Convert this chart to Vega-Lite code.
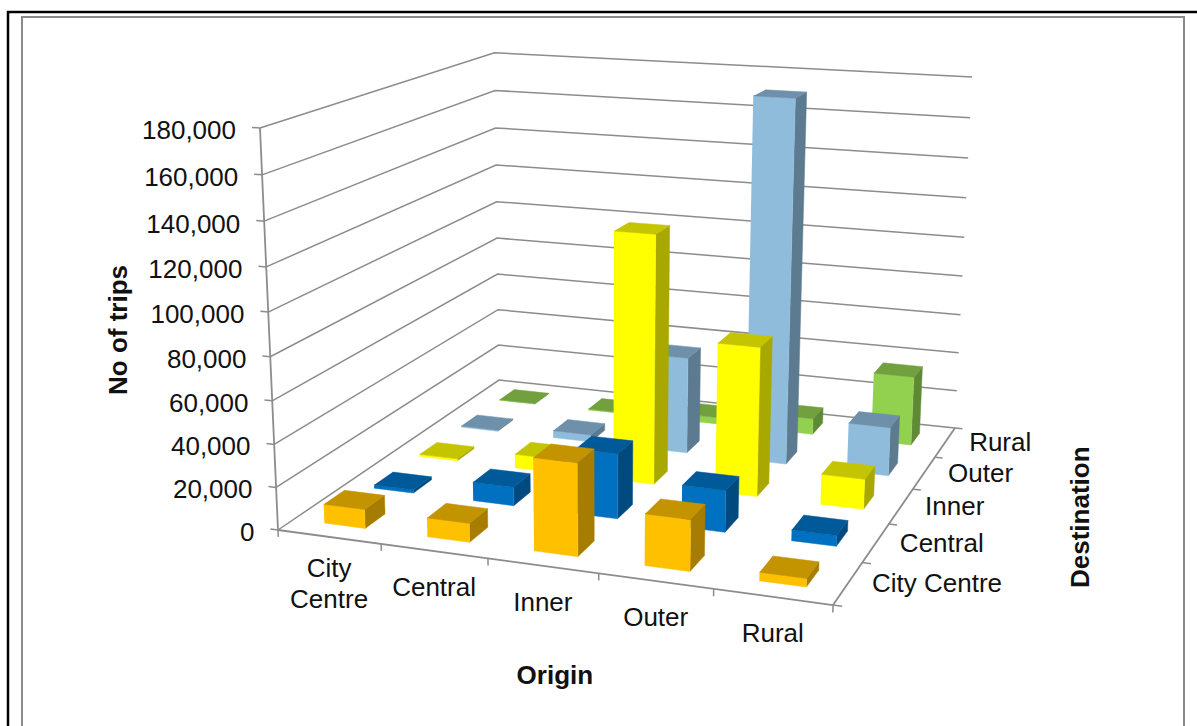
{
"$schema":"https://vega.github.io/schema/vega-lite/v6.json",
"width":1197,"height":726,"padding":0,"autosize":"none","background":"white",
"config":{"view":{"stroke":null},"text":{"font":"Liberation Sans","fontSize":26,"color":"#111111"}},
"datasets":{
"trips":[
{"origin":"City Centre","destination":"Rural","trips":300},{"origin":"Central","destination":"Rural","trips":500},{"origin":"Inner","destination":"Rural","trips":3400},{"origin":"Outer","destination":"Rural","trips":8200},{"origin":"Rural","destination":"Rural","trips":35300},
{"origin":"City Centre","destination":"Outer","trips":600},{"origin":"Central","destination":"Outer","trips":3600},{"origin":"Inner","destination":"Outer","trips":48500},{"origin":"Outer","destination":"Outer","trips":178500},{"origin":"Rural","destination":"Outer","trips":24100},
{"origin":"City Centre","destination":"Inner","trips":1000},{"origin":"Central","destination":"Inner","trips":6800},{"origin":"Inner","destination":"Inner","trips":120700},{"origin":"Outer","destination":"Inner","trips":72000},{"origin":"Rural","destination":"Inner","trips":14500},
{"origin":"City Centre","destination":"Central","trips":1500},{"origin":"Central","destination":"Central","trips":9000},{"origin":"Inner","destination":"Central","trips":30800},{"origin":"Outer","destination":"Central","trips":19600},{"origin":"Rural","destination":"Central","trips":5000},
{"origin":"City Centre","destination":"City Centre","trips":8900},{"origin":"Central","destination":"City Centre","trips":8800},{"origin":"Inner","destination":"City Centre","trips":42500},{"origin":"Outer","destination":"City Centre","trips":23300},{"origin":"Rural","destination":"City Centre","trips":3800}
],
"ticks":[{"value":0},{"value":20000},{"value":40000},{"value":60000},{"value":80000},{"value":100000},{"value":120000},{"value":140000},{"value":160000},{"value":180000}],
"edges":[{"edge":"front"},{"edge":"right"},{"edge":"height"}],
"boundaries":[{"axis":"origin","k":0},{"axis":"origin","k":1},{"axis":"origin","k":2},{"axis":"origin","k":3},{"axis":"origin","k":4},{"axis":"origin","k":5},{"axis":"destination","k":0},{"axis":"destination","k":1},{"axis":"destination","k":2},{"axis":"destination","k":3},{"axis":"destination","k":4},{"axis":"destination","k":5}],
"originLabels":[{"origin":"City Centre","k":0},{"origin":"Central","k":1},{"origin":"Inner","k":2},{"origin":"Outer","k":3},{"origin":"Rural","k":4}],
"destinationLabels":[{"destination":"City Centre","k":0},{"destination":"Central","k":1},{"destination":"Inner","k":2},{"destination":"Outer","k":3},{"destination":"Rural","k":4}]
},
"encoding":{
"x":{"field":"X","type":"quantitative","scale":{"domain":[0,1197],"nice":false,"zero":false},"axis":null},
"y":{"field":"Y","type":"quantitative","scale":{"domain":[726,0],"nice":false,"zero":false},"axis":null}
},
"layer":[
{"data":{"values":[{"frame":"outer"}]},
 "transform":[
 {"calculate":"[0,1,2]","as":"corner"},{"flatten":["corner"]},
 {"calculate":"[8,8,1197][datum.corner]","as":"X"},{"calculate":"[726,12,12][datum.corner]","as":"Y"}],
 "mark":{"type":"line","stroke":"#000000","strokeWidth":2.5},
 "encoding":{"order":{"field":"corner"}}},
{"data":{"values":[{"frame":"inner"}]},
 "transform":[
 {"calculate":"[0,1,2,3]","as":"corner"},{"flatten":["corner"]},
 {"calculate":"[22,22,1184,1184][datum.corner]","as":"X"},{"calculate":"[726,17,17,726][datum.corner]","as":"Y"}],
 "mark":{"type":"line","stroke":"#8a8a8a","strokeWidth":2},
 "encoding":{"order":{"field":"corner"}}},
{"data":{"name":"ticks"},
 "transform":[
 {"calculate":"[0,1,2]","as":"corner"},{"flatten":["corner"]},
 {"calculate":"datum.corner===2?1:0","as":"U"},{"calculate":"datum.corner>=1?1:0","as":"V"},{"calculate":"datum.value/180000","as":"H"},
 {"calculate":"1-0.0873*datum.U+0.2405*datum.V-0.053*datum.H","as":"W"},
 {"calculate":"(278+482.3*datum.U+341*datum.V-31.8*datum.H)/datum.W","as":"X"},
 {"calculate":"(530+22.2*datum.U-58.6*datum.V-408.8*datum.H)/datum.W","as":"Y"}],
 "mark":{"type":"line","stroke":"#8c8c8c","strokeWidth":1.5},
 "encoding":{"detail":{"field":"value"},"order":{"field":"corner"}}},
{"data":{"name":"ticks"},
 "transform":[
 {"calculate":"[0,1]","as":"corner"},{"flatten":["corner"]},
 {"calculate":"-0.015*datum.corner","as":"U"},{"calculate":"0","as":"V"},{"calculate":"datum.value/180000","as":"H"},
 {"calculate":"1-0.0873*datum.U+0.2405*datum.V-0.053*datum.H","as":"W"},
 {"calculate":"(278+482.3*datum.U+341*datum.V-31.8*datum.H)/datum.W","as":"X"},
 {"calculate":"(530+22.2*datum.U-58.6*datum.V-408.8*datum.H)/datum.W","as":"Y"}],
 "mark":{"type":"line","stroke":"#8c8c8c","strokeWidth":1.5},
 "encoding":{"detail":{"field":"value"},"order":{"field":"corner"}}},
{"data":{"name":"edges"},
 "transform":[
 {"calculate":"[0,1]","as":"corner"},{"flatten":["corner"]},
 {"calculate":"datum.edge==='front'?datum.corner:datum.edge==='right'?1:0","as":"U"},
 {"calculate":"datum.edge==='right'?datum.corner:0","as":"V"},
 {"calculate":"datum.edge==='height'?datum.corner:0","as":"H"},
 {"calculate":"1-0.0873*datum.U+0.2405*datum.V-0.053*datum.H","as":"W"},
 {"calculate":"(278+482.3*datum.U+341*datum.V-31.8*datum.H)/datum.W","as":"X"},
 {"calculate":"(530+22.2*datum.U-58.6*datum.V-408.8*datum.H)/datum.W","as":"Y"}],
 "mark":{"type":"line","stroke":"#8c8c8c","strokeWidth":1.8},
 "encoding":{"detail":{"field":"edge"},"order":{"field":"corner"}}},
{"data":{"name":"boundaries"},
 "transform":[
 {"calculate":"[0,1]","as":"corner"},{"flatten":["corner"]},
 {"calculate":"datum.axis==='origin'?datum.k/5:1+0.015*datum.corner","as":"U"},
 {"calculate":"datum.axis==='origin'?0:datum.k/5","as":"V"},
 {"calculate":"datum.axis==='origin'?-0.018*datum.corner:0","as":"H"},
 {"calculate":"1-0.0873*datum.U+0.2405*datum.V-0.053*datum.H","as":"W"},
 {"calculate":"(278+482.3*datum.U+341*datum.V-31.8*datum.H)/datum.W","as":"X"},
 {"calculate":"(530+22.2*datum.U-58.6*datum.V-408.8*datum.H)/datum.W","as":"Y"},
 {"calculate":"datum.axis+datum.k","as":"tickId"}],
 "mark":{"type":"line","stroke":"#8c8c8c","strokeWidth":1.5},
 "encoding":{"detail":{"field":"tickId"},"order":{"field":"corner"}}},
{"data":{"name":"trips"},
 "transform":[
 {"calculate":"indexof(['City Centre','Central','Inner','Outer','Rural'],datum.origin)","as":"o"},
 {"calculate":"indexof(['City Centre','Central','Inner','Outer','Rural'],datum.destination)","as":"d"},
 {"calculate":"['side','front','top']","as":"face"},{"flatten":["face"]},
 {"calculate":"[0,1,2,3]","as":"corner"},{"flatten":["corner"]},
 {"calculate":"(datum.o+(datum.face==='side'||datum.corner===1||datum.corner===2?0.7:0.3))/5","as":"U"},
 {"calculate":"(datum.d+(datum.face==='front'?0.3:datum.face==='side'?(datum.corner===1||datum.corner===2?0.7:0.3):(datum.corner>=2?0.7:0.3)))/5","as":"V"},
 {"calculate":"(datum.face==='top'||datum.corner>=2)?datum.trips/180000:0","as":"H"},
 {"calculate":"1-0.0873*datum.U+0.2405*datum.V-0.053*datum.H","as":"W"},
 {"calculate":"(278+482.3*datum.U+341*datum.V-31.8*datum.H)/datum.W","as":"X"},
 {"calculate":"(530+22.2*datum.U-58.6*datum.V-408.8*datum.H)/datum.W","as":"Y"},
 {"calculate":"datum.destination+'|'+datum.face","as":"shade"},
 {"calculate":"datum.origin+'|'+datum.destination+'|'+datum.face","as":"faceId"}],
 "mark":{"type":"line","strokeWidth":0.5},
 "encoding":{
 "detail":{"field":"faceId"},"order":{"field":"corner"},
 "fill":{"field":"shade","type":"nominal","legend":null,"scale":{"domain":["City Centre|front","City Centre|top","City Centre|side","Central|front","Central|top","Central|side","Inner|front","Inner|top","Inner|side","Outer|front","Outer|top","Outer|side","Rural|front","Rural|top","Rural|side"],"range":["#FFC000","#C39300","#A67D00","#0070C0","#005A9A","#004A80","#FFFF00","#C4C400","#A8A800","#8FBCDB","#6E90AA","#5C7A90","#92D050","#72A03E","#5F8A35"]}},
 "stroke":{"field":"shade","type":"nominal","legend":null,"scale":{"domain":["City Centre|front","City Centre|top","City Centre|side","Central|front","Central|top","Central|side","Inner|front","Inner|top","Inner|side","Outer|front","Outer|top","Outer|side","Rural|front","Rural|top","Rural|side"],"range":["#FFC000","#C39300","#A67D00","#0070C0","#005A9A","#004A80","#FFFF00","#C4C400","#A8A800","#8FBCDB","#6E90AA","#5C7A90","#92D050","#72A03E","#5F8A35"]}}
 }},
{"data":{"name":"ticks"},
 "transform":[
 {"calculate":"datum.value/180000","as":"H"},
 {"calculate":"1+0.0873*0.015-0.053*datum.H","as":"W"},
 {"calculate":"(278-482.3*0.015-31.8*datum.H)/datum.W","as":"X"},
 {"calculate":"(530-22.2*0.015-408.8*datum.H)/datum.W","as":"Y"}],
 "mark":{"type":"text","align":"right","baseline":"middle","dx":-16,"dy":4},
 "encoding":{"text":{"field":"value","type":"quantitative","format":","}}},
{"data":{"name":"originLabels"},
 "transform":[
 {"calculate":"(datum.k+0.5)/5","as":"U"},
 {"calculate":"1-0.0873*datum.U","as":"W"},
 {"calculate":"(278+482.3*datum.U)/datum.W","as":"X"},
 {"calculate":"(530+22.2*datum.U)/datum.W-(datum.origin==='City Centre'?5:0)","as":"Y"}],
 "mark":{"type":"text","align":"center","baseline":"top","dy":24,"lineBreak":" ","lineHeight":31},
 "encoding":{"text":{"field":"origin"}}},
{"data":{"name":"destinationLabels"},
 "transform":[
 {"calculate":"(datum.k+0.5)/5","as":"V"},
 {"calculate":"1-0.0873+0.2405*datum.V","as":"W"},
 {"calculate":"(278+482.3+341*datum.V)/datum.W","as":"X"},
 {"calculate":"(530+22.2-58.6*datum.V)/datum.W","as":"Y"}],
 "mark":{"type":"text","align":"left","baseline":"middle","dx":24,"dy":1},
 "encoding":{"text":{"field":"destination"}}},
{"data":{"values":[{"axisTitle":"Destination"}]},
 "transform":[
 {"calculate":"1-0.0873+0.2405*0.5","as":"W"},
 {"calculate":"(278+482.3+341*0.5)/datum.W","as":"X"},
 {"calculate":"(530+22.2-58.6*0.5)/datum.W","as":"Y"}],
 "mark":{"type":"text","align":"center","baseline":"middle","angle":270,"fontWeight":"bold","dx":-11,"dy":180},
 "encoding":{"text":{"field":"axisTitle"}}},
{"data":{"values":[{"axisTitle":"Origin"}]},
 "transform":[
 {"calculate":"1-0.0873*0.5","as":"W"},
 {"calculate":"(278+482.3*0.5)/datum.W","as":"X"},
 {"calculate":"(530+22.2*0.5)/datum.W","as":"Y"}],
 "mark":{"type":"text","align":"center","baseline":"middle","fontWeight":"bold","dx":12,"dy":110},
 "encoding":{"text":{"field":"axisTitle"}}},
{"data":{"values":[{"axisTitle":"No of trips"}]},
 "transform":[
 {"calculate":"1-0.053*0.5","as":"W"},
 {"calculate":"(278-31.8*0.5)/datum.W","as":"X"},
 {"calculate":"(530-408.8*0.5)/datum.W","as":"Y"}],
 "mark":{"type":"text","align":"center","baseline":"middle","angle":270,"fontWeight":"bold","dx":4.5,"dy":-150},
 "encoding":{"text":{"field":"axisTitle"}}}
]
}
